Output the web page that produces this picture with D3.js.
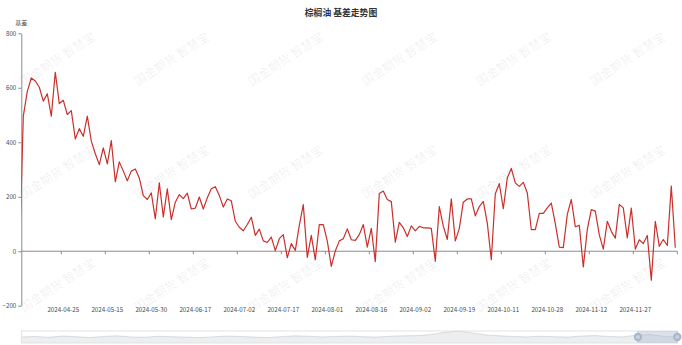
<!DOCTYPE html>
<html><head><meta charset="utf-8">
<script src="https://cdn.jsdelivr.net/npm/d3@7"></script>
<style>
body{margin:0;background:#fff;}
svg{display:block;font-family:"Noto Sans CJK SC","Noto Sans",sans-serif;}
</style>
</head><body>
<svg id="chart" width="682" height="345"></svg>
<script>
// ---------------- data ----------------
const chartTitle = "棕榈油 基差走势图";
const yAxisName = "基差";
const watermarkText = "国金期货 智慧宝";

// trading day before the visible window (line is clipped at the plot edge)
const prevDate = "2024-04-10";
const prevBasis = -36;

const dates = [
"2024-04-11","2024-04-12","2024-04-15","2024-04-16","2024-04-17","2024-04-18","2024-04-19","2024-04-22","2024-04-23","2024-04-24","2024-04-25","2024-04-26","2024-04-29","2024-04-30",
"2024-05-06","2024-05-07","2024-05-08","2024-05-09","2024-05-10","2024-05-13","2024-05-14","2024-05-15","2024-05-16","2024-05-17","2024-05-20","2024-05-21","2024-05-22","2024-05-23","2024-05-24","2024-05-27","2024-05-28","2024-05-29","2024-05-30","2024-05-31",
"2024-06-03","2024-06-04","2024-06-05","2024-06-06","2024-06-07","2024-06-11","2024-06-12","2024-06-13","2024-06-14","2024-06-17","2024-06-18","2024-06-19","2024-06-20","2024-06-21","2024-06-24","2024-06-25","2024-06-26","2024-06-27","2024-06-28",
"2024-07-01","2024-07-02","2024-07-03","2024-07-04","2024-07-05","2024-07-08","2024-07-09","2024-07-10","2024-07-11","2024-07-12","2024-07-15","2024-07-16","2024-07-17","2024-07-18","2024-07-19","2024-07-22","2024-07-23","2024-07-24","2024-07-25","2024-07-26","2024-07-29","2024-07-30","2024-07-31",
"2024-08-01","2024-08-02","2024-08-05","2024-08-06","2024-08-07","2024-08-08","2024-08-09","2024-08-12","2024-08-13","2024-08-14","2024-08-15","2024-08-16","2024-08-19","2024-08-20","2024-08-21","2024-08-22","2024-08-23","2024-08-26","2024-08-27","2024-08-28","2024-08-29","2024-08-30",
"2024-09-02","2024-09-03","2024-09-04","2024-09-05","2024-09-06","2024-09-09","2024-09-10","2024-09-11","2024-09-12","2024-09-13","2024-09-18","2024-09-19","2024-09-20","2024-09-23","2024-09-24","2024-09-25","2024-09-26","2024-09-27","2024-09-30",
"2024-10-08","2024-10-09","2024-10-10","2024-10-11","2024-10-14","2024-10-15","2024-10-16","2024-10-17","2024-10-18","2024-10-21","2024-10-22","2024-10-23","2024-10-24","2024-10-25","2024-10-28","2024-10-29","2024-10-30","2024-10-31",
"2024-11-01","2024-11-04","2024-11-05","2024-11-06","2024-11-07","2024-11-08","2024-11-11","2024-11-12","2024-11-13","2024-11-14","2024-11-15","2024-11-18","2024-11-19","2024-11-20","2024-11-21","2024-11-22","2024-11-25","2024-11-26","2024-11-27","2024-11-28","2024-11-29",
"2024-12-02","2024-12-03","2024-12-04","2024-12-05","2024-12-06","2024-12-09","2024-12-10","2024-12-11"
];

const basis = [
496,587,636,625,602,551,578,496,657,542,554,502,516,412,
450,422,496,404,358,318,379,321,406,255,328,294,259,294,302,269,204,190,214,119,
251,126,229,116,180,208,193,213,155,158,199,155,196,229,237,205,162,192,185,
110,88,75,98,125,58,81,38,32,52,2,46,61,-24,28,3,95,171,-23,58,-31,98,98,37,
-56,1,38,46,82,42,40,61,98,15,84,-38,212,221,190,182,33,106,86,54,93,75,
91,86,86,84,-37,164,92,43,192,38,84,180,192,192,130,164,183,103,-31,
211,248,156,269,304,251,238,253,214,79,79,139,139,159,177,101,15,13,
135,190,90,95,-58,80,153,147,60,8,110,73,48,172,159,49,158,8,42,28,58,
-106,110,18,43,21,239,13
];

const yTicks = [-200, 0, 200, 400, 600, 800];
const xLabelDates = ["2024-04-25","2024-05-15","2024-05-30","2024-06-17","2024-07-02","2024-07-17","2024-08-01","2024-08-16","2024-09-02","2024-09-19","2024-10-11","2024-10-28","2024-11-12","2024-11-27"];

// dataZoom slider: rough shape of the full history and the selected window
const sliderShadow = [150,170,130,190,160,120,170,200,150,130,180,160,140,120,150,190,170,140,120,160,200,180,150,170,190,160,140,180,200,210,260,360,420,330,240,200,170,150,180,160,140,190,210,170,150,230,260,180,140];
const windowStartPct = 94;
const windowEndPct = 100;

// ---------------- layout ----------------
const W = 682, H = 345;
const grid = {left: 21.3, right: 677.3, top: 33.3, bottom: 305.7};
const svg = d3.select("#chart");
const axisColor = "#8c8c8c";
const labelColor = "#4a4a4a";
const fontStack = "'Noto Sans CJK SC','Noto Sans',sans-serif";

const x = d3.scaleBand().domain(dates).range([grid.left, grid.right]).padding(0);
const bw = x.bandwidth();
const y = d3.scaleLinear().domain([-200, 800]).range([grid.bottom, grid.top]);

// ---------------- watermarks ----------------
const wm = svg.append("g").attr("class", "watermarks");
for (let r = 0; r < 3; r++) {
  for (let c = 0; c < 6; c++) {
    const cx = 57 + 114 * c, cy = 58 + 113 * r;
    wm.append("text")
      .attr("transform", `translate(${cx},${cy}) rotate(-33)`)
      .attr("text-anchor", "middle").attr("dominant-baseline", "central")
      .attr("font-size", 12).attr("fill", "#000").attr("fill-opacity", 0.075)
      .text(watermarkText);
  }
}

// ---------------- title ----------------
svg.append("text").attr("x", W / 2).attr("y", 12).attr("text-anchor", "middle")
  .attr("dominant-baseline", "central").attr("font-size", 8.8).attr("font-weight", "bold")
  .attr("fill", "#333").text(chartTitle);

svg.append("text").attr("x", grid.left).attr("y", 22.5).attr("text-anchor", "middle")
  .attr("dominant-baseline", "central").attr("font-size", 6).attr("fill", labelColor).text(yAxisName);

// ---------------- y axis ----------------
const yAxis = svg.append("g").attr("transform", `translate(${grid.left},0)`)
  .call(d3.axisLeft(y).tickValues(yTicks).tickSize(3).tickSizeOuter(0).tickPadding(2));
yAxis.select(".domain").attr("stroke", axisColor);
yAxis.selectAll(".tick line").attr("stroke", axisColor);
yAxis.selectAll(".tick text").attr("fill", labelColor).attr("font-size", 6.2)
  .attr("font-family", fontStack);

// ---------------- x axis (on zero) ----------------
const xg = svg.append("g");
xg.append("line").attr("x1", grid.left).attr("x2", grid.right)
  .attr("y1", y(0)).attr("y2", y(0)).attr("stroke", axisColor);
const tickXs = xLabelDates.map(d => x(d)).concat([grid.right]);
xg.selectAll("line.xt").data(tickXs).join("line").attr("class", "xt")
  .attr("x1", d => d).attr("x2", d => d).attr("y1", y(0)).attr("y2", y(0) + 3)
  .attr("stroke", axisColor);
const xLab = svg.append("g").attr("transform", `translate(0,${grid.bottom})`)
  .call(d3.axisBottom(x).tickValues(xLabelDates).tickSize(0).tickPadding(2.3));
xLab.select(".domain").remove();
xLab.selectAll(".tick text").attr("fill", labelColor).attr("font-size", 6.2)
  .attr("font-family", fontStack);

// ---------------- line ----------------
svg.append("clipPath").attr("id", "clip").append("rect")
  .attr("x", grid.left).attr("y", 0).attr("width", grid.right - grid.left).attr("height", H);
const pts = [{d: prevDate, v: prevBasis, px: grid.left - bw / 2}]
  .concat(dates.map((d, i) => ({d, v: basis[i], px: x(d) + bw / 2})));
svg.append("path").datum(pts).attr("clip-path", "url(#clip)")
  .attr("fill", "none").attr("stroke", "#c9302c").attr("stroke-width", 1.2)
  .attr("stroke-linejoin", "round")
  .attr("d", d3.line().x(p => p.px).y(p => y(p.v)));

// ---------------- dataZoom slider ----------------
const sTop = 331, sH = 12;
const sx = d3.scaleLinear().domain([0, sliderShadow.length - 1]).range([grid.left, grid.right]);
const sy = d3.scaleLinear().domain([d3.min(sliderShadow) - 250, d3.max(sliderShadow)]).range([sTop + sH, sTop]);
const sg = svg.append("g");
sg.append("path").datum(sliderShadow)
  .attr("fill", "rgba(47,69,84,0.3)").attr("fill-opacity", 0.3)
  .attr("d", d3.area().x((d, i) => sx(i)).y0(sTop + sH).y1(d => sy(d)));
sg.append("path").datum(sliderShadow)
  .attr("fill", "none").attr("stroke", "#2f4554").attr("stroke-opacity", 0.3).attr("stroke-width", 0.5)
  .attr("d", d3.line().x((d, i) => sx(i)).y(d => sy(d)));
sg.append("rect").attr("x", grid.left).attr("y", sTop).attr("width", grid.right - grid.left)
  .attr("height", sH).attr("fill", "none").attr("stroke", "#ddd").attr("stroke-width", 0.8);
const pct = d3.scaleLinear().domain([0, 100]).range([grid.left, grid.right]);
sg.append("rect").attr("x", pct(windowStartPct)).attr("y", sTop)
  .attr("width", pct(windowEndPct) - pct(windowStartPct)).attr("height", sH)
  .attr("fill", "rgba(167,183,204,0.4)");
[windowStartPct, windowEndPct].forEach(p => {
  const hx = pct(p), hy = sTop + sH / 2;
  sg.append("line").attr("x1", hx).attr("x2", hx).attr("y1", sTop).attr("y2", sTop + sH)
    .attr("stroke", "#a7b7cc").attr("stroke-width", 0.6);
  sg.append("circle").attr("cx", hx).attr("cy", hy).attr("r", 4.2).attr("fill", "#a7b7cc");
  sg.append("line").attr("x1", hx - 2).attr("x2", hx + 2).attr("y1", hy - 0.9).attr("y2", hy - 0.9)
    .attr("stroke", "#fff").attr("stroke-width", 0.6);
  sg.append("line").attr("x1", hx - 2).attr("x2", hx + 2).attr("y1", hy + 0.9).attr("y2", hy + 0.9)
    .attr("stroke", "#fff").attr("stroke-width", 0.6);
});
</script>
</body></html>
